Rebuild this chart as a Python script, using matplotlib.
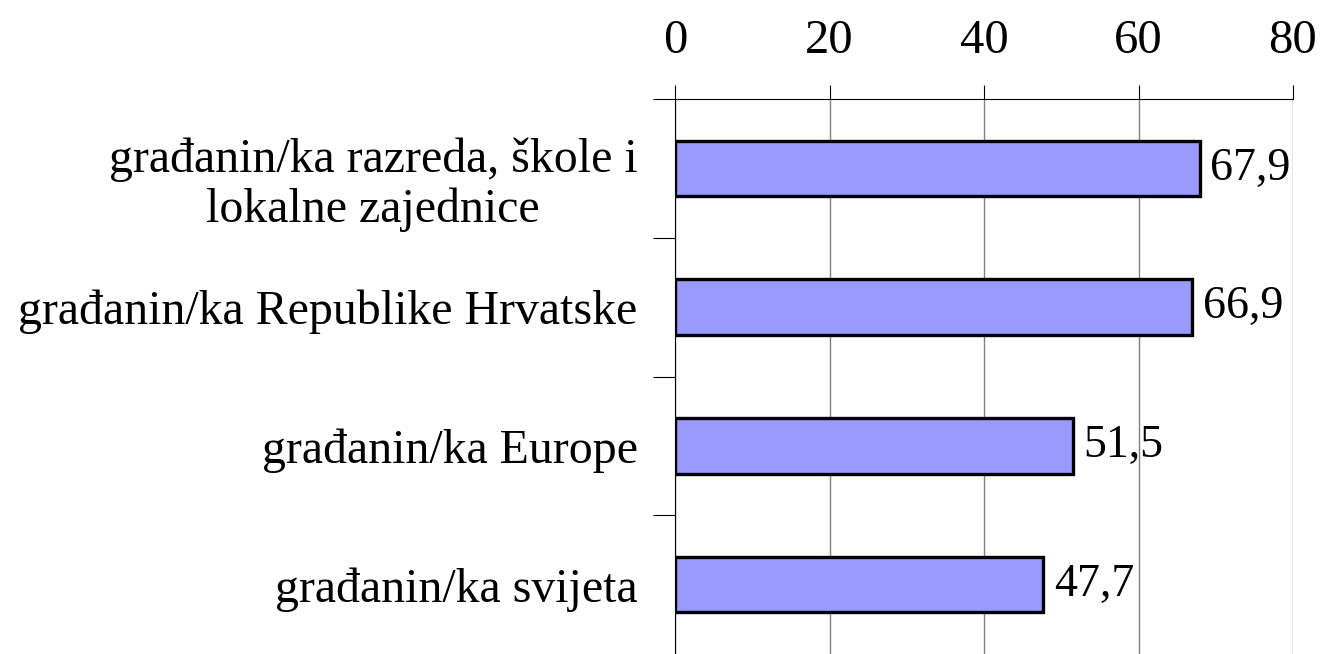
#!/usr/bin/env python3

import matplotlib.pyplot as plt
from matplotlib.ticker import FixedLocator
from matplotlib.transforms import ScaledTranslation

categories = [
    "građanin/ka razreda, škole i\nlokalne zajednice",
    "građanin/ka Republike Hrvatske",
    "građanin/ka Europe",
    "građanin/ka svijeta",
]
values = [67.9, 66.9, 51.5, 47.7]
value_labels = ["67,9", "66,9", "51,5", "47,7"]
x_ticks = [0, 20, 40, 60, 80]


def main():
    plt.rcParams["font.family"] = ["Liberation Serif", "DejaVu Serif"]

    fig = plt.figure(figsize=(13.22, 6.54), dpi=100)
    ax = fig.add_axes([675 / 1322, 0.0, (1293 - 675) / 1322, 1 - 99 / 654])

    ypos = list(range(len(categories)))
    ax.barh(ypos, values, height=0.4, color="#9999FF", edgecolor="black",
            linewidth=2.4, zorder=3)
    for y, v, lab in zip(ypos, values, value_labels):
        ax.text(v + 1.4, y, lab, va="center", ha="left", fontsize=33, zorder=4)

    ax.set_xlim(0, 80)
    ax.set_ylim(len(categories) - 0.5, -0.5)

    ax.xaxis.tick_top()
    ax.set_xticks(x_ticks)
    ax.set_xticklabels([str(t) for t in x_ticks])
    ax.tick_params(axis="x", direction="out", length=10, width=0.8,
                   pad=16, labelsize=35, colors="black")
    ax.grid(axis="x", color="#808080", linewidth=1.0, zorder=0)

    ax.set_yticks(ypos)
    ax.set_yticklabels(categories, linespacing=1.15, multialignment="center")
    ax.tick_params(axis="y", which="major", length=0, pad=27, labelsize=34.5)
    ax.yaxis.set_minor_locator(FixedLocator([-0.5, 0.5, 1.5, 2.5]))
    ax.tick_params(axis="y", which="minor", length=16, width=0.8,
                   direction="out")

    for side in ["bottom", "right"]:
        ax.spines[side].set_visible(False)
    ax.spines["top"].set_linewidth(0.8)
    ax.spines["left"].set_linewidth(0.8)

    # two-line label sits a bit lower than the category centre
    first = ax.get_yticklabels()[0]
    first.set_transform(first.get_transform()
                        + ScaledTranslation(0, -0.09, fig.dpi_scale_trans))

    fig.savefig("out.png", dpi=100)
    plt.close(fig)


if __name__ == "__main__":
    main()
